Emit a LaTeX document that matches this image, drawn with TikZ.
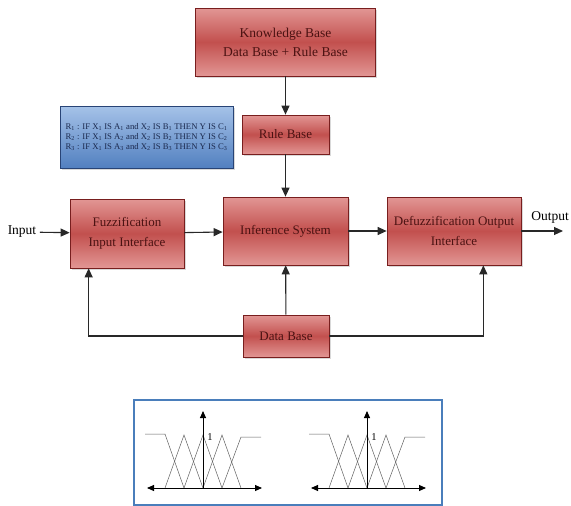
\documentclass[tikz,border=0pt]{standalone}
\usepackage{fontspec}
\setmainfont{Liberation Serif}
\usepackage{tikz}
\usetikzlibrary{arrows.meta}
\usetikzlibrary{shadows}
\definecolor{boxlight}{RGB}{226,150,148}
\definecolor{boxmid}{RGB}{194,80,78}
\definecolor{boxedge}{RGB}{120,30,30}
\definecolor{boxtext}{RGB}{75,18,18}
\definecolor{rulelight}{RGB}{165,194,232}
\definecolor{ruledark}{RGB}{82,128,192}
\definecolor{ruleedge}{RGB}{40,68,118}
\definecolor{ruletext}{RGB}{28,42,78}
\definecolor{panelblue}{RGB}{74,126,187}
\definecolor{wiregray}{RGB}{40,40,40}
\newcommand{\rsub}[1]{\textsubscript{#1}}
\tikzset{
  block/.style = {draw=boxedge, line width=0.7pt,
    top color=boxlight, bottom color=boxlight, middle color=boxmid,
    text=boxtext, align=center, inner sep=2pt,
    font=\fontsize{13}{19.5}\selectfont,
    drop shadow={shadow xshift=1.5pt, shadow yshift=-2pt, opacity=0.3}},
  rulebox/.style = {draw=ruleedge, line width=0.7pt,
    top color=rulelight, bottom color=ruledark,
    text=ruletext, align=left, inner sep=2pt,
    font=\fontsize{8.7}{10}\selectfont,
    drop shadow={shadow xshift=1.5pt, shadow yshift=-2pt, opacity=0.3}},
  wire/.style = {draw=wiregray, line width=1.1pt,
    -{Stealth[length=9pt,width=8pt,inset=0pt]}},
  fset/.style = {draw=gray!75!black, line width=0.5pt},
  axis/.style = {draw=black, line width=0.9pt}
}
\begin{document}
\begin{tikzpicture}[x=1pt,y=1pt]
  \useasboundingbox (0,0) rectangle (571,-506);
  %%% knowledge base and rules
  \node[block, minimum width=180pt, minimum height=68pt,
        font=\fontsize{13.5}{19}\selectfont] (kb) at (285.5,-42)
        {Knowledge Base\\Data Base + Rule Base};
  \node[block, minimum width=87pt, minimum height=39pt] (rule) at (285.5,-134.5) {Rule Base};
  \node[rulebox, minimum width=173pt, minimum height=62pt] (rules) at (146.5,-137)
    {R\rsub{1} : IF X\rsub{1} IS A\rsub{1} and X\rsub{2} IS B\rsub{1} THEN Y IS C\rsub{1}\\
     R\rsub{2} : IF X\rsub{1} IS A\rsub{2} and X\rsub{2} IS B\rsub{2} THEN Y IS C\rsub{2}\\
     R\rsub{3} : IF X\rsub{1} IS A\rsub{3} and X\rsub{2} IS B\rsub{3} THEN Y IS C\rsub{3}};
  %%% main chain
  \node[font=\fontsize{13.5}{15}\selectfont] (input) at (22,-232) {Input};
  \node[block, minimum width=114pt, minimum height=69pt] (fuzz) at (127,-233.5)
    {Fuzzification\\Input Interface};
  \node[block, minimum width=125pt, minimum height=68pt] (inf) at (285.5,-231) {Inference System};
  \node[block, minimum width=134pt, minimum height=68pt] (defuzz) at (454,-231)
    {Defuzzification Output\\Interface};
  \node[font=\fontsize{13.5}{15}\selectfont] (output) at (550,-217) {Output};
  \coordinate (outend) at (563,-231);
  \node[block, minimum width=86pt, minimum height=42pt] (data) at (286,-336) {Data Base};
  %
  \draw[wire] (kb) -- (rule);
  \draw[wire] (rule) -- (inf);
  \draw[wire] (input) -- (fuzz);
  \draw[wire] (fuzz) -- (inf);
  \draw[wire] (inf) -- (defuzz);
  \draw[wire] (defuzz.east) -- (outend);
  \draw[wire] (data) -- (inf);
  \draw[wire] (data.west) -| ([xshift=19pt]fuzz.south west);
  \draw[wire] (data.east) -| ([xshift=-38pt]defuzz.south east);
  %%% membership functions
  \draw[panelblue, line width=1.6pt] (134,-400) rectangle (442,-505);
  \foreach \ax in {203,367} {
    \draw[fset] ({\ax-58},-434) -- ({\ax-38},-434) -- ({\ax-19},-488);
    \foreach \pk in {-19,0,19} {
      \draw[fset] ({\ax+\pk-19},-488) -- ({\ax+\pk},-435) -- ({\ax+\pk+19},-488);
    }
    \draw[fset] ({\ax+19},-488) -- ({\ax+38},-437) -- ({\ax+58},-437);
    \draw[axis, {Stealth[length=7pt,width=6pt,inset=0pt]}-{Stealth[length=7pt,width=6pt,inset=0pt]}]
      ({\ax-56},-488) -- ({\ax+59},-488);
    \draw[axis, -{Stealth[length=7pt,width=6pt,inset=0pt]}] (\ax,-488) -- (\ax,-411);
    \node[font=\fontsize{10.5}{12}\selectfont, inner sep=0pt] (one\ax) at ({\ax+7},-437) {1};
  }
\end{tikzpicture}
\end{document}
